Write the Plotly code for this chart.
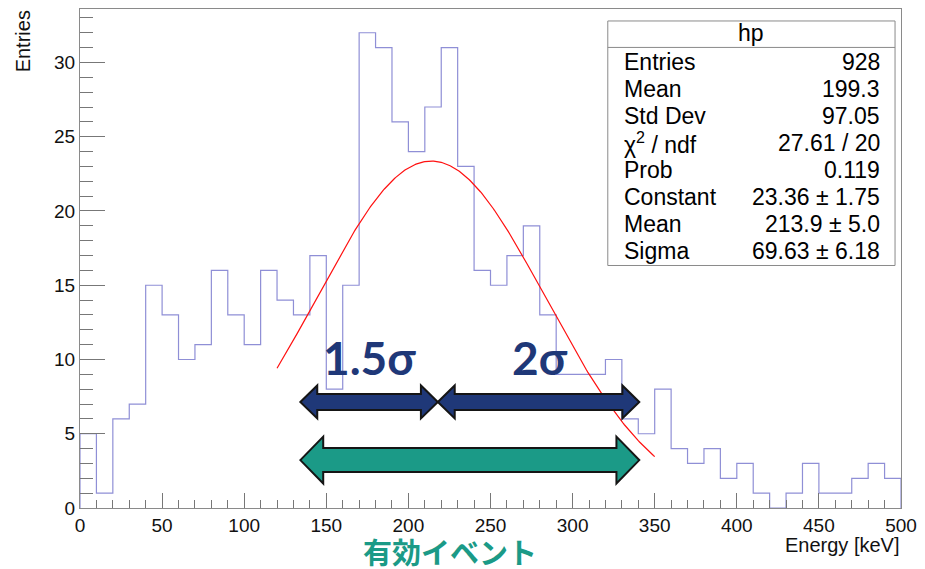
import numpy as np
import plotly.graph_objects as go

# ---- histogram "hp": 50 bins of 10 keV over 0..500 keV ----
bin_width = 10
x_min, x_max = 0, 500
counts = [5, 1, 6, 7, 15, 13, 10, 11, 16, 13,
          11, 16, 14, 13, 17, 8, 15, 32, 31, 26,
          24, 27, 31, 23, 16, 15, 17, 19, 13, 9,
          9, 9, 10, 6, 5, 8, 4, 3, 4, 2,
          3, 1, 0, 1, 3, 1, 1, 2, 3, 2]

# ---- Gaussian fit result ----
fit_constant = 23.36
fit_mean = 213.9
fit_sigma = 69.63
fit_range = (120, 350)

# ---- statistics box ----
stats_title = "hp"
stats_names = ["Entries", "Mean", "Std Dev", "χ<sup>2</sup> / ndf", "Prob",
               "Constant", "Mean", "Sigma"]
stats_values = ["928", "199.3", "97.05", "27.61 / 20", "0.119",
                "23.36 ± 1.75", "213.9 ± 5.0", "69.63 ± 6.18"]

x_ticks = [0, 50, 100, 150, 200, 250, 300, 350, 400, 450, 500]
y_ticks = [0, 5, 10, 15, 20, 25, 30]
y_top = 33.6

W, H = 925, 569
L, R, T, B = 80, 906, 8, 508  # frame in pixels


def px(X):
    return (X - L) / (R - L)


def py(Y):
    return (B - Y) / (B - T)


# step outline of the histogram
edges = np.arange(x_min, x_max + bin_width, bin_width)
step_x = [edges[0]] + list(edges) + [edges[-1]]
step_y = [0] + list(counts) + [counts[-1], 0]

fit_x = np.linspace(fit_range[0], fit_range[1], 300)
fit_y = fit_constant * np.exp(-0.5 * ((fit_x - fit_mean) / fit_sigma) ** 2)

fig = go.Figure()
fig.add_trace(go.Scatter(x=step_x, y=step_y, mode="lines", line_shape="hv",
                         line=dict(color="#8f8fd6", width=1.2),
                         hoverinfo="skip", showlegend=False))
fig.add_trace(go.Scatter(x=fit_x, y=fit_y, mode="lines",
                         line=dict(color="#ff1010", width=1.2),
                         hoverinfo="skip", showlegend=False))

shapes = []
annotations = []

# statistics box
shapes.append(dict(type="rect", xref="paper", yref="paper",
                   x0=px(611), x1=px(900), y0=py(265), y1=py(20),
                   fillcolor="white", line=dict(color="#8a8a8a", width=1),
                   layer="above"))
shapes.append(dict(type="line", xref="paper", yref="paper",
                   x0=px(611), x1=px(900), y0=py(46.5), y1=py(46.5),
                   line=dict(color="#8a8a8a", width=1), layer="above"))
stat_font = dict(family="Liberation Sans, Arial, sans-serif", size=23, color="black")
annotations.append(dict(xref="paper", yref="paper", x=px(755.5), y=py(32.5),
                        text=stats_title, showarrow=False, xanchor="center",
                        yanchor="middle", font=stat_font))
for i, (name, val) in enumerate(zip(stats_names, stats_values)):
    yc = 61.5 + i * 27.0
    annotations.append(dict(xref="paper", yref="paper", x=px(625), y=py(yc),
                            text=name, showarrow=False, xanchor="left",
                            yanchor="middle", font=stat_font))
    annotations.append(dict(xref="paper", yref="paper", x=px(887), y=py(yc),
                            text=val, showarrow=False, xanchor="right",
                            yanchor="middle", font=stat_font))


def double_arrow(x0, x1, yc, hl, hh, sh):
    pts = [(x0, yc), (x0 + hl, yc - hh), (x0 + hl, yc - sh), (x1 - hl, yc - sh),
           (x1 - hl, yc - hh), (x1, yc), (x1 - hl, yc + hh), (x1 - hl, yc + sh),
           (x0 + hl, yc + sh), (x0 + hl, yc + hh)]
    d = "M " + " L ".join(f"{px(a):.5f},{py(b):.5f}" for a, b in pts) + " Z"
    return d


navy = "#1f3878"
teal = "#1b9a87"
for a, b in [(301.7, 440.0), (440.0, 642.7)]:
    shapes.append(dict(type="path", xref="paper", yref="paper",
                       path=double_arrow(a, b, 401.7, 17, 16.5, 8),
                       fillcolor=navy, line=dict(color="#151515", width=2),
                       layer="above"))
shapes.append(dict(type="path", xref="paper", yref="paper",
                   path=double_arrow(301.7, 642.7, 460, 23, 23.5, 12),
                   fillcolor=teal, line=dict(color="#151515", width=2),
                   layer="above"))

sig_font = dict(family="Lato, sans-serif", size=46, color=navy, weight="bold")
annotations.append(dict(xref="paper", yref="paper", x=px(371.5), y=py(357),
                        text="<b>1.5σ</b>", showarrow=False, xanchor="center",
                        yanchor="middle", font=sig_font))
annotations.append(dict(xref="paper", yref="paper", x=px(543), y=py(357),
                        text="<b>2σ</b>", showarrow=False, xanchor="center",
                        yanchor="middle", font=sig_font))
annotations.append(dict(xref="paper", yref="paper", x=px(452.5), y=py(551.5),
                        text="<b>有効イベント</b>", showarrow=False, xanchor="center",
                        yanchor="middle", borderpad=0,
                        font=dict(family="Noto Sans CJK JP", size=29, color=teal)))

# axis titles
title_font = dict(family="Liberation Sans, Arial, sans-serif", size=20, color="#111")
tick_font = dict(family="Liberation Sans, Arial, sans-serif", size=19, color="#111")
annotations.append(dict(xref="paper", yref="paper", x=px(906), y=py(545),
                        text="Energy [keV]", showarrow=False, xanchor="right",
                        yanchor="middle", borderpad=0, font=title_font))
annotations.append(dict(xref="paper", yref="paper", x=px(23), y=py(7),
                        text="Entries", showarrow=False, xanchor="center",
                        yanchor="top", textangle=-90, font=title_font))

fig.update_layout(
    width=W, height=H,
    margin=dict(l=L, r=W - R, t=T, b=H - B),
    paper_bgcolor="white", plot_bgcolor="white",
    shapes=shapes, annotations=annotations,
    xaxis=dict(range=[x_min, x_max], tickvals=x_ticks, ticks="inside",
               ticklen=15, tickcolor="#777", tickwidth=1,
               minor=dict(ticks="inside", dtick=10, ticklen=8, tickcolor="#777"),
               showline=True, mirror=True, linecolor="#8a8a8a", linewidth=1,
               showgrid=False, zeroline=False,
               tickfont=tick_font),
    yaxis=dict(range=[0, y_top], tickvals=y_ticks, ticks="inside",
               ticklen=25, tickcolor="#777", tickwidth=1,
               minor=dict(ticks="inside", dtick=1, ticklen=13, tickcolor="#777"),
               showline=True, mirror=True, linecolor="#8a8a8a", linewidth=1,
               showgrid=False, zeroline=False,
               tickfont=tick_font),
)

fig.write_html("out.html")
